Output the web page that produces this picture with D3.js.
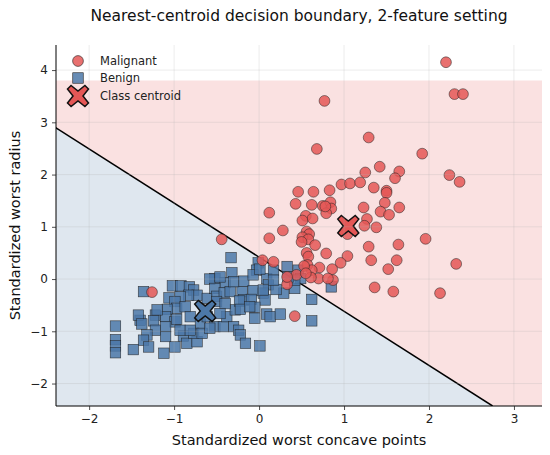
<!DOCTYPE html>
<html>
<head>
<meta charset="utf-8">
<script src="https://cdn.jsdelivr.net/npm/d3@7"></script>
<style>
  html, body { margin: 0; padding: 0; background: #ffffff; }
  svg { display: block; font-family: "DejaVu Sans", sans-serif; }
</style>
</head>
<body>
<svg id="chart" width="550" height="455"></svg>
<script>
// ---------- data ----------
const title = "Nearest-centroid decision boundary, 2-feature setting";
const xLabel = "Standardized worst concave points";
const yLabel = "Standardized worst radius";
const xTicks = [-2, -1, 0, 1, 2, 3];
const yTicks = [-2, -1, 0, 1, 2, 3, 4];
const xDomain = [-2.39, 3.33];
const yDomain = [-2.43, 4.48];
// extent of the shaded decision grid
const gridX = [-2.39, 3.33];
const gridY = [-2.43, 3.80];

const classNames = ["Malignant", "Benign"];
const centroidMalignant = [1.05, 1.015];
const centroidBenign = [-0.634, -0.61];

const malignantX = [2.20,2.30,2.40,0.77,1.29,0.68,1.92,1.42,1.25,1.65,1.60,2.24,2.36,0.97,1.07,1.19,1.35,1.50,1.50,0.46,
  0.64,0.83,0.43,0.62,0.75,0.84,0.85,0.79,0.78,1.23,1.48,1.65,1.43,1.53,1.27,0.55,0.63,0.51,1.24,1.38,
  0.28,0.56,0.59,0.51,0.58,0.50,0.66,1.04,1.64,1.29,0.56,0.79,0.58,1.04,1.32,1.62,0.12,0.12,0.96,1.52,
  0.57,0.71,0.86,0.62,0.53,0.70,0.61,0.87,1.36,1.58,0.42,0.17,0.04,0.33,0.44,-0.44,-1.26,0.55,0.81,0.33,
  1.96,2.32,2.13];
const malignantY = [4.15,3.54,3.54,3.41,2.71,2.49,2.40,2.15,2.04,2.06,1.93,1.99,1.86,1.81,1.83,1.85,1.75,1.69,1.65,1.67,
  1.67,1.70,1.44,1.42,1.40,1.47,1.35,1.26,1.39,1.37,1.46,1.37,1.29,1.23,1.15,1.21,1.16,1.12,1.02,0.99,
  0.93,0.91,0.86,0.80,0.76,0.71,0.65,0.86,0.66,0.62,0.50,0.49,0.43,0.44,0.36,0.36,1.27,0.78,0.31,0.19,
  0.27,0.22,0.19,0.17,0.25,0.01,0.03,-0.02,-0.16,-0.24,-0.71,0.33,0.36,-0.10,0.08,0.76,-0.25,0.11,0.01,0.04,
  0.77,0.29,-0.27];

const benignX = [-0.33,-0.01,-0.03,-0.32,-0.52,-0.58,-0.40,-0.18,-0.07,0.09,0.11,0.17,-1.36,-1.02,-0.92,-0.82,-0.77,-0.73,-0.83,-0.93,
  -1.06,-0.61,-0.52,-0.50,-0.41,-0.34,-0.20,-0.07,-0.18,-0.09,0.05,0.07,-0.05,0.09,0.13,-0.99,-0.97,-0.87,-0.81,-0.69,
  -0.61,-0.52,-0.42,-0.38,-0.30,-0.24,-0.22,-0.16,-0.28,-1.08,-1.10,-0.99,-1.10,-1.22,-1.24,-1.22,-1.10,-1.32,-1.36,-1.30,
  -1.40,-1.42,-1.20,-1.69,-1.69,-1.69,-1.69,-1.48,-1.12,-0.99,-0.89,-0.85,-0.73,-0.77,-0.67,0.01,-0.05,0.33,0.46,0.49,
  0.62,0.85,0.42,0.29,0.20,-0.23,0.25,0.62,-0.46,-0.50,-0.40,-0.22,-0.46,0.17,0.42,0.34,-0.30,-1.38,-0.97,-0.93,
  -0.81,-0.58,0.01,-0.11,0.05];
const benignY = [0.41,0.31,0.17,0.12,0.01,0.00,-0.07,-0.04,0.08,0.01,-0.11,0.17,-0.24,-0.13,-0.13,-0.15,-0.21,-0.31,-0.31,-0.34,
  -0.36,-0.37,-0.18,-0.33,-0.26,-0.24,-0.24,-0.22,-0.40,-0.39,-0.27,-0.40,-0.54,-0.67,-0.72,-0.43,-0.56,-0.53,-0.72,-0.86,
  -0.72,-0.91,-0.91,-0.72,-0.91,-0.98,-1.07,-1.23,-0.59,-0.58,-0.72,-0.82,-0.91,-0.69,-0.80,-0.98,-1.10,-1.07,-1.17,-1.30,
  -0.79,-0.69,-0.59,-0.90,-1.16,-1.28,-1.41,-1.35,-1.42,-1.30,-1.09,-1.23,-1.20,-1.04,-1.04,-1.28,-0.75,0.24,0.17,0.01,
  -0.39,-0.15,-0.18,-0.27,-0.20,-0.42,-0.67,-0.80,0.04,-0.43,-0.47,-0.58,-0.66,-0.02,-0.02,0.04,-0.05,-0.86,-0.77,-0.98,
  -0.98,-0.94,0.19,-0.53,-0.21];

// ---------- style ----------
const RED = "#e45756", BLUE = "#4c78a8";
const W = 550, H = 455;
const margin = { left: 56, right: 8, top: 45, bottom: 49 };
const iw = W - margin.left - margin.right;
const ih = H - margin.top - margin.bottom;

const svg = d3.select("#chart");
const x = d3.scaleLinear().domain(xDomain).range([margin.left, margin.left + iw]);
const y = d3.scaleLinear().domain(yDomain).range([margin.top + ih, margin.top]);

// ---------- decision regions (clip rectangle by half-planes) ----------
const mid = [(centroidMalignant[0] + centroidBenign[0]) / 2, (centroidMalignant[1] + centroidBenign[1]) / 2];
const dv = [centroidMalignant[0] - centroidBenign[0], centroidMalignant[1] - centroidBenign[1]];
function clip(poly, side) {
  const f = p => side * ((p[0] - mid[0]) * dv[0] + (p[1] - mid[1]) * dv[1]);
  const out = [];
  for (let i = 0; i < poly.length; i++) {
    const a = poly[i], b = poly[(i + 1) % poly.length];
    const fa = f(a), fb = f(b);
    if (fa >= 0) out.push(a);
    if ((fa >= 0) !== (fb >= 0)) {
      const t = fa / (fa - fb);
      out.push([a[0] + t * (b[0] - a[0]), a[1] + t * (b[1] - a[1])]);
    }
  }
  return out;
}
const rect = [[gridX[0], gridY[0]], [gridX[1], gridY[0]], [gridX[1], gridY[1]], [gridX[0], gridY[1]]];
const toPath = poly => "M" + poly.map(p => x(p[0]) + "," + y(p[1])).join("L") + "Z";

svg.append("clipPath").attr("id", "plotclip").append("rect")
  .attr("x", margin.left).attr("y", margin.top).attr("width", iw).attr("height", ih);

const plot = svg.append("g").attr("clip-path", "url(#plotclip)");
plot.append("path").attr("d", toPath(clip(rect, 1))).attr("fill", RED).attr("fill-opacity", 0.18);
plot.append("path").attr("d", toPath(clip(rect, -1))).attr("fill", BLUE).attr("fill-opacity", 0.18);

// grid
const gridG = svg.append("g");
gridG.selectAll("line.gx").data(xTicks).join("line")
  .attr("x1", d => x(d)).attr("x2", d => x(d))
  .attr("y1", margin.top).attr("y2", margin.top + ih)
  .attr("stroke", "#b0b0b0").attr("stroke-opacity", 0.3).attr("stroke-width", 0.8);
gridG.selectAll("line.gy").data(yTicks).join("line")
  .attr("y1", d => y(d)).attr("y2", d => y(d))
  .attr("x1", margin.left).attr("x2", margin.left + iw)
  .attr("stroke", "#b0b0b0").attr("stroke-opacity", 0.3).attr("stroke-width", 0.8);

// boundary line
const lineAt = yy => mid[0] - (yy - mid[1]) * dv[1] / dv[0];
plot.append("line")
  .attr("x1", x(lineAt(yDomain[1]))).attr("y1", y(yDomain[1]))
  .attr("x2", x(lineAt(yDomain[0]))).attr("y2", y(yDomain[0]))
  .attr("stroke", "#000").attr("stroke-width", 1.5);

// points
const mal = malignantX.map((v, i) => [v, malignantY[i]]);
const ben = benignX.map((v, i) => [v, benignY[i]]);
const SQ = 10.5;
plot.append("g").selectAll("rect").data(ben).join("rect")
  .attr("x", d => x(d[0]) - SQ / 2).attr("y", d => y(d[1]) - SQ / 2)
  .attr("width", SQ).attr("height", SQ)
  .attr("fill", BLUE).attr("fill-opacity", 0.85)
  .attr("stroke", "#222").attr("stroke-opacity", 0.85).attr("stroke-width", 0.6);
plot.append("g").selectAll("circle").data(mal).join("circle")
  .attr("cx", d => x(d[0])).attr("cy", d => y(d[1])).attr("r", 5.4)
  .attr("fill", RED).attr("fill-opacity", 0.85)
  .attr("stroke", "#222").attr("stroke-opacity", 0.85).attr("stroke-width", 0.6);

// centroids: filled "X" marker
function xMarker(g, cx, cy, s, fill) {
  const a = s * 0.5, b = s * 0.17;
  const pts = [[-a + b, -a], [0, -b * 1.4], [a - b, -a], [a, -a + b], [b * 1.4, 0], [a, a - b], [a - b, a],
    [0, b * 1.4], [-a + b, a], [-a, a - b], [-b * 1.4, 0], [-a, -a + b]];
  g.append("path").attr("d", "M" + pts.map(p => (cx + p[0]) + "," + (cy + p[1])).join("L") + "Z")
    .attr("fill", fill).attr("stroke", "#111").attr("stroke-width", 1.5).attr("stroke-linejoin", "miter");
}
xMarker(plot, x(centroidMalignant[0]), y(centroidMalignant[1]), 21, RED);
xMarker(plot, x(centroidBenign[0]), y(centroidBenign[1]), 21, BLUE);

// axes
const fmt = d => d < 0 ? "\u2212" + Math.abs(d) : d;
const xAxis = svg.append("g").attr("transform", `translate(0,${margin.top + ih})`)
  .call(d3.axisBottom(x).tickValues(xTicks).tickSize(4).tickPadding(4).tickFormat(fmt));
const yAxis = svg.append("g").attr("transform", `translate(${margin.left},0)`)
  .call(d3.axisLeft(y).tickValues(yTicks).tickSize(4).tickPadding(4).tickFormat(fmt));
[xAxis, yAxis].forEach(a => {
  a.selectAll("text").attr("font-size", 12).attr("fill", "#222").attr("font-family", "DejaVu Sans");
  a.selectAll(".tick line").attr("stroke", "#222").attr("stroke-width", 0.8);
  a.select(".domain").attr("stroke", "#000").attr("stroke-width", 1);
});
xAxis.select(".domain").attr("d", `M${margin.left},0H${margin.left + iw}`);
yAxis.select(".domain").attr("d", `M0,${margin.top}V${margin.top + ih}`);

// labels
svg.append("text").attr("x", margin.left + iw / 2).attr("y", 21).attr("text-anchor", "middle")
  .attr("font-size", 15.5).attr("fill", "#111").text(title);
svg.append("text").attr("x", margin.left + iw / 2).attr("y", 445).attr("text-anchor", "middle")
  .attr("font-size", 14.5).attr("fill", "#111").text(xLabel);
svg.append("text").attr("transform", `translate(20,${margin.top + ih / 2}) rotate(-90)`).attr("text-anchor", "middle")
  .attr("font-size", 14.5).attr("fill", "#111").text(yLabel);

// legend
const lg = svg.append("g");
const lx = 78, ly = [61, 78, 96];
lg.append("circle").attr("cx", lx).attr("cy", ly[0]).attr("r", 5.4)
  .attr("fill", RED).attr("fill-opacity", 0.85).attr("stroke", "#222").attr("stroke-width", 0.6);
lg.append("rect").attr("x", lx - SQ / 2).attr("y", ly[1] - SQ / 2).attr("width", SQ).attr("height", SQ)
  .attr("fill", BLUE).attr("fill-opacity", 0.85).attr("stroke", "#222").attr("stroke-width", 0.6);
xMarker(lg, lx, ly[2], 21, RED);
const legendLabels = [classNames[0], classNames[1], "Class centroid"];
lg.selectAll("text").data(legendLabels).join("text")
  .attr("x", 100).attr("y", (d, i) => ly[i] + 4).attr("font-size", 11.5).attr("fill", "#222").text(d => d);
</script>
</body>
</html>
